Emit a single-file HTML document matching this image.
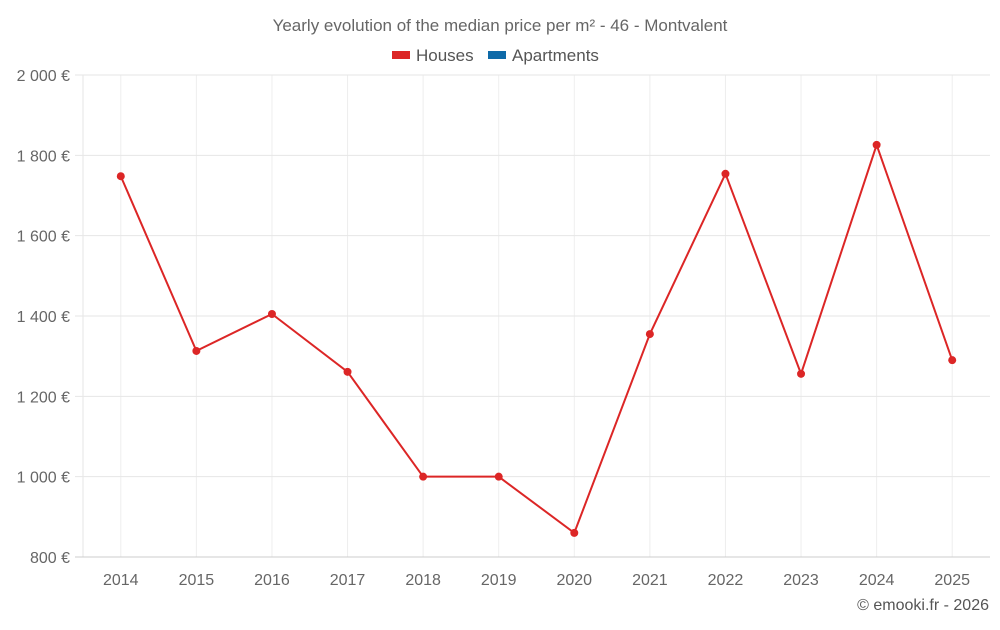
<!DOCTYPE html>
<html><head><meta charset="utf-8"><style>
body{margin:0;background:#fff;font-family:"Liberation Sans",sans-serif;}
svg text{font-family:"Liberation Sans",sans-serif;}
</style></head><body>
<svg id="chart" width="1000" height="625" xmlns="http://www.w3.org/2000/svg">
<text x="500" y="31" text-anchor="middle" font-size="17" fill="#666">Yearly evolution of the median price per m² - 46 - Montvalent</text>
<g>
<g><rect x="392" y="51" width="18" height="8" fill="#dc2626"/><text x="416" y="61" font-size="17" fill="#555">Houses</text></g>
<g><rect x="488" y="51" width="18" height="8" fill="#0e6aa8"/><text x="512" y="61" font-size="17" fill="#555">Apartments</text></g>
</g>
<g id="grid"></g>
<g id="yaxis"></g>
<g id="xaxis"></g>
<g id="series"></g>
<text x="989" y="610" text-anchor="end" font-size="16" fill="#555">© emooki.fr - 2026</text>
</svg>
<script>
const years=["2014","2015","2016","2017","2018","2019","2020","2021","2022","2023","2024","2025"];
const houses=[1748,1313,1405,1261,1000,1000,860,1355,1754,1256,1826,1290];
const yTicks=[800,1000,1200,1400,1600,1800,2000];
const yTickLabels=["800 €","1 000 €","1 200 €","1 400 €","1 600 €","1 800 €","2 000 €"];
const NS="http://www.w3.org/2000/svg";
const L=83,R=990,T=75,B=557,yMin=800,yMax=2000;
const band=(R-L)/years.length;
const x=i=>L+band*(i+0.5);
const y=v=>B-(v-yMin)/(yMax-yMin)*(B-T);
function mk(tag,attrs,parent){const e=document.createElementNS(NS,tag);for(const k in attrs)e.setAttribute(k,attrs[k]);parent.appendChild(e);return e;}
const grid=document.getElementById('grid'),ya=document.getElementById('yaxis'),xa=document.getElementById('xaxis'),s=document.getElementById('series');
const lv=mk('line',{x1:L,x2:L,y1:T,y2:B,stroke:'#e6e6e6','stroke-width':1},grid);


years.forEach((yr,i)=>{
 const l=mk('line',{x1:x(i),x2:x(i),y1:T,y2:B,stroke:'#eeeeee','stroke-width':1},grid);
 
 
});
yTicks.forEach((t,i)=>{
 const l=mk('line',{x1:L-8,x2:R,y1:y(t),y2:y(t),stroke:i==0?'#ccc':'#e6e6e6','stroke-width':1},grid);
 
 
 const tx=mk('text',{x:70,y:y(t)+6,'text-anchor':'end','font-size':16,fill:'#666'},ya);
 tx.textContent=yTickLabels[i];
 
 
});
years.forEach((yr,i)=>{
 const tx=mk('text',{x:x(i),y:585,'text-anchor':'middle','font-size':16,fill:'#666'},xa);
 tx.textContent=yr;
 
 
});
const p=mk('polyline',{points:houses.map((v,i)=>x(i)+','+y(v)).join(' '),fill:'none',stroke:'#dc2626','stroke-width':2},s);


houses.forEach((v,i)=>{
 const c=mk('circle',{cx:x(i),cy:y(v),r:4,fill:'#dc2626'},s);
 
 
});
</script>
</body></html>
